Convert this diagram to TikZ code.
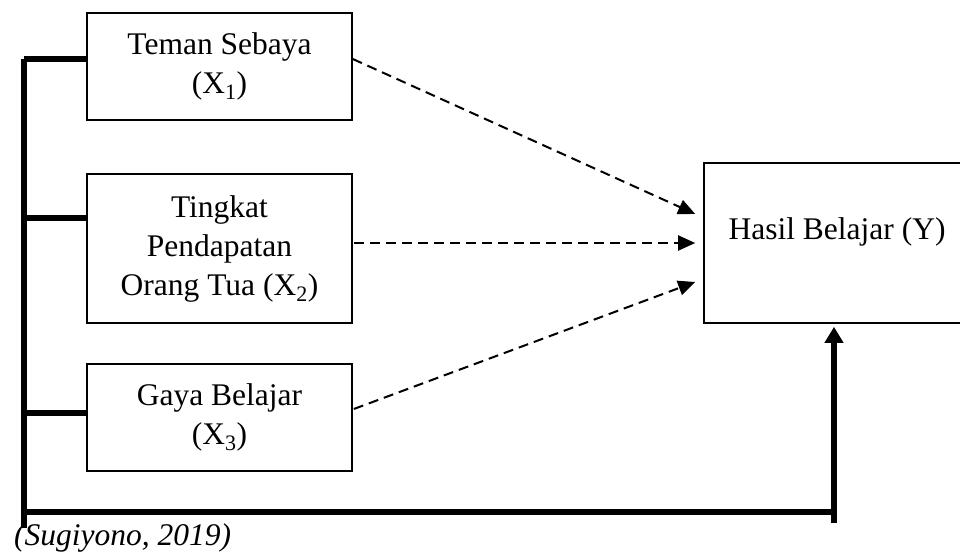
\documentclass[tikz,border=0pt]{standalone}
\usepackage{fontspec}
\setmainfont{Liberation Serif}
\usetikzlibrary{arrows.meta,calc}
\begin{document}
\begin{tikzpicture}[x=1pt,y=-1pt,
  box/.style={draw,line width=1.6pt,minimum width=265pt,inner sep=0pt,align=center,
    font=\fontsize{31.5}{39}\selectfont},
  dasharrow/.style={line width=2pt,dash pattern=on 10pt off 6pt,
    -{Triangle[length=17pt,width=15pt]}},
  thickline/.style={line width=5.5pt},
  thickarrow/.style={line width=5.5pt,-{Triangle[length=16pt,width=18pt]}},
  lbl/.style={inner sep=0pt,font=\fontsize{31.5}{39}\selectfont}]
\clip (0,0) rectangle (960,554);
\fill[white] (0,0) rectangle (960,554);

\node[box,minimum height=107pt] (b1) at (219.5,66.5) {Teman Sebaya\\(X\textsubscript{1})};
\node[box,minimum height=149pt] (b2) at (219.5,248.5) {Tingkat\\Pendapatan\\Orang Tua (X\textsubscript{2})};
\node[box,minimum height=107pt] (b3) at (219.5,417.5) {Gaya Belajar\\(X\textsubscript{3})};
\node[draw,line width=1.6pt,minimum width=262pt,minimum height=160pt,inner sep=0pt] (yb) at (835,243) {};
\node[lbl] (ylab) at (837,232) {Hasil Belajar (Y)};

% dashed arrows
\draw[dasharrow] ($(b1.east)+(0,-7.5)$) -- ($(yb.west)+(-8,-29)$);
\draw[dasharrow] ($(b2.east)+(1,-5.5)$) -- ($(yb.west)+(-8,0)$);
\draw[dasharrow] ($(b3.east)+(1,-8.5)$) -- ($(yb.west)+(-8,39)$);

% left bracket
\coordinate (s1) at (24,59);
\coordinate (s2) at (24,218);
\coordinate (s3) at (24,413);
\coordinate (lb) at (24,528);
\coordinate (bl) at (24,512);
\coordinate (br) at (834,512);
\coordinate (rb) at (834,523);
\draw[thickline] (s1) -- (lb);
\draw[thickline] (s1) -- (s1 -| b1.west);
\draw[thickline] (s2) -- (s2 -| b2.west);
\draw[thickline] (s3) -- (s3 -| b3.west);
\draw[thickline] (bl) -- (br);
\draw[thickarrow] (rb) -- ($(yb.south -| rb)+(0,3)$);

\node[lbl,anchor=base west,font=\fontsize{31.5}{39}\selectfont\itshape] (cap) at (14,545) {(Sugiyono, 2019)};
\end{tikzpicture}
\end{document}
